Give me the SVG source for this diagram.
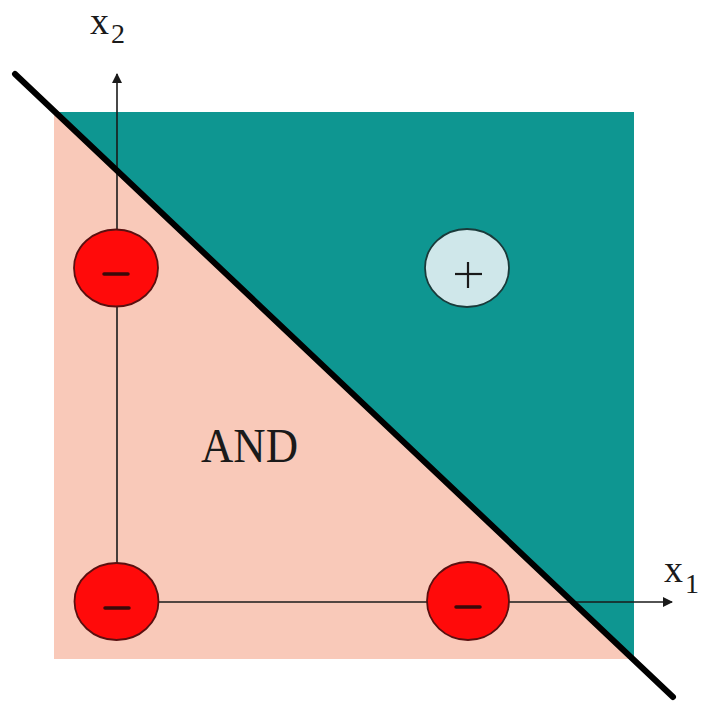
<svg xmlns="http://www.w3.org/2000/svg" width="705" height="703" viewBox="0 0 705 703">
<defs>
<style>
.lbl{font-family:"Liberation Serif","Times New Roman",serif;fill:#1a1a1a}
.neg{fill:#ff0a0a;stroke:#5a1010;stroke-width:1.8}
.pos{fill:#cfe7ea;stroke:#1a3a3a;stroke-width:1.8}
.sign{stroke:#3a0a0a;stroke-width:3.5;stroke-linecap:round;fill:none}
.psign{stroke:#1a1a1a;stroke-width:2.2;fill:none}
.axis{stroke:#1a1a1a;stroke-width:1.6;fill:none}
</style>
<marker id="arr" viewBox="0 0 10 10" refX="9" refY="5" markerWidth="10" markerHeight="10" markerUnits="userSpaceOnUse" orient="auto">
<path d="M0,0 L10,5 L0,10 Z" fill="#1a1a1a"/>
</marker>
</defs>
<rect width="705" height="703" fill="#ffffff"/>
<g id="regions">
<rect x="54" y="112" width="580" height="547" fill="#f9c9b9"/>
<polygon points="55,112 634,112 634,660" fill="#0e9691"/>
</g>
<g id="connectors">
<line class="axis" x1="117" y1="603" x2="117" y2="74" marker-end="url(#arr)"/>
<line class="axis" x1="117" y1="602" x2="672" y2="602" marker-end="url(#arr)"/>
<line x1="15" y1="74" x2="673" y2="697" stroke="#000" stroke-width="6" stroke-linecap="round"/>
</g>
<g id="neg1">
<ellipse class="neg" cx="116" cy="268" rx="42" ry="38.5"/>
<line class="sign" x1="104" y1="274" x2="128" y2="274"/>
</g>
<g id="neg2">
<ellipse class="neg" cx="116.5" cy="601.5" rx="42" ry="38.5"/>
<line class="sign" x1="105" y1="608" x2="129" y2="608"/>
</g>
<g id="neg3">
<ellipse class="neg" cx="468" cy="601" rx="41" ry="39"/>
<line class="sign" x1="456" y1="607" x2="480" y2="607"/>
</g>
<g id="pos1">
<ellipse class="pos" cx="467" cy="268" rx="42" ry="39"/>
<line class="psign" x1="455" y1="274" x2="482" y2="274"/>
<line class="psign" x1="468" y1="262" x2="468" y2="288"/>
</g>
<g id="labels">
<text class="lbl" x="90" y="34" font-size="38">x</text>
<text class="lbl" x="111" y="43" font-size="28">2</text>
<text class="lbl" x="664" y="582" font-size="38">x</text>
<text class="lbl" x="685" y="593" font-size="28">1</text>
<text class="lbl" x="201" y="462" font-size="48" textLength="97" lengthAdjust="spacingAndGlyphs">AND</text>
</g>
</svg>
